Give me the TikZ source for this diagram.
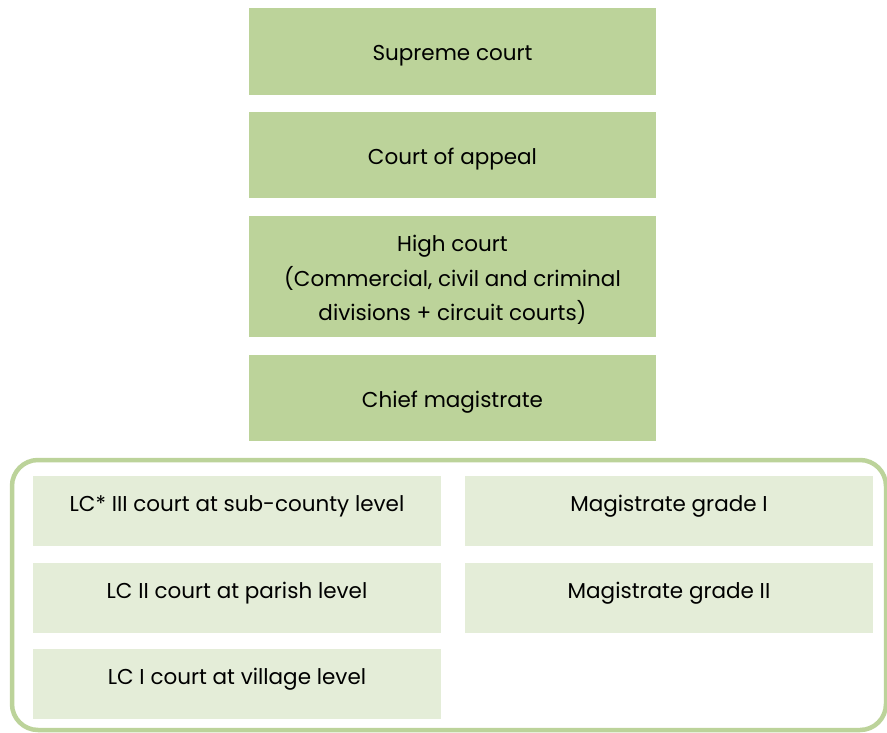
\documentclass[tikz,border=0pt]{standalone}
\usepackage{fontspec}
\setmainfont{Poppins}
\definecolor{darkg}{HTML}{BCD39A}
\definecolor{lightg}{HTML}{E4EDD8}
\begin{document}
\begin{tikzpicture}[x=1pt,y=-1pt,
  lbl/.style={align=center,font=\fontsize{21.5}{34.5}\selectfont,inner sep=0pt}]
\useasboundingbox (0,0) rectangle (887,732);
\begin{scope}
\clip (0,0) rectangle (887,732);
\draw[darkg,line width=4.5pt,rounded corners=26pt] (12,460) rectangle (886,730);
\end{scope}
\fill[darkg] (249,8) rectangle (656,95);
\node[lbl] (sup) at (452.5,55.5) {Supreme court};
\fill[darkg] (249,112) rectangle (656,198);
\node[lbl] (app) at (452.5,159.5) {Court of appeal};
\fill[darkg] (249,216) rectangle (656,337);
\node[lbl] (high) at (452.5,280) {High court\\(Commercial, civil and criminal\\divisions + circuit courts)};
\fill[darkg] (249,355) rectangle (656,441);
\node[lbl] (chief) at (452.5,402.5) {Chief magistrate};
\fill[lightg] (33,476) rectangle (441,546);
\node[lbl] (lc3) at (237,506.5) {LC* III court at sub-county level};
\fill[lightg] (33,563) rectangle (441,633);
\node[lbl] (lc2) at (237,593.5) {LC II court at parish level};
\fill[lightg] (33,649) rectangle (441,719);
\node[lbl] (lc1) at (237,679.5) {LC I court at village level};
\fill[lightg] (465,476) rectangle (873,546);
\node[lbl] (mg1) at (669,506.5) {Magistrate grade I};
\fill[lightg] (465,563) rectangle (873,633);
\node[lbl] (mg2) at (669,593.5) {Magistrate grade II};
\end{tikzpicture}
\end{document}
